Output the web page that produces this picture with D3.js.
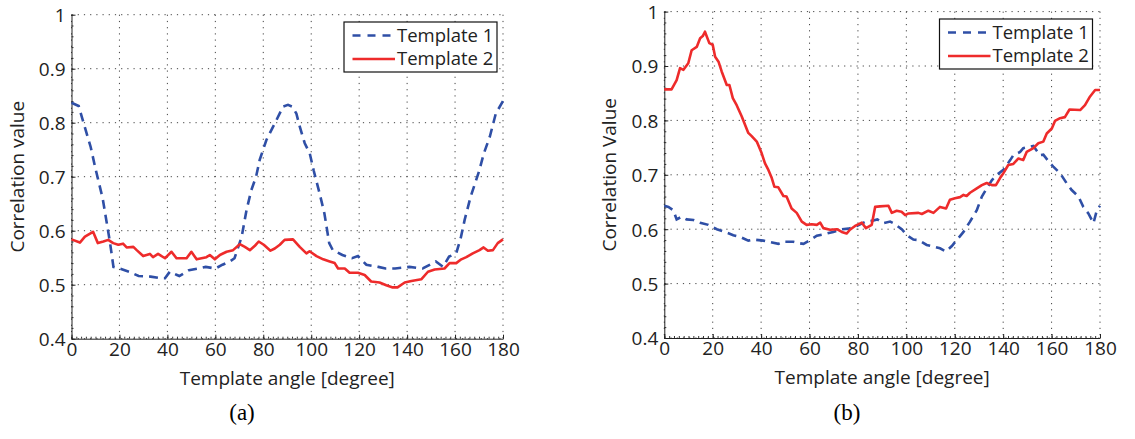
<!DOCTYPE html>
<html>
<head>
<meta charset="utf-8">
<script src="https://cdn.jsdelivr.net/npm/d3@7"></script>
<style>
  body { margin: 0; background: #fff; }
  svg { display: block; }
  .tick text { font-family: "Open Sans", sans-serif; font-size: 19px; fill: #222; }
  .lab { font-family: "Open Sans", sans-serif; font-size: 19px; fill: #222; }
  .leg { font-family: "Open Sans", sans-serif; font-size: 18.5px; fill: #222; }
  .cap { font-family: "Liberation Serif", "Times New Roman", serif; font-size: 23px; fill: #000; }
</style>
</head>
<body>
<div class="graph"></div>
<script>
// tick labels
var xTicks = [0, 20, 40, 60, 80, 100, 120, 140, 160, 180];
var yTicks = [0.4, 0.5, 0.6, 0.7, 0.8, 0.9, 1];
var seriesNames = ["Template 1", "Template 2"];

// (a) template 1
var aAng1 = [0, 3, 5, 8, 10, 13, 16, 17.5, 20, 24, 28, 33, 37, 39, 41, 44, 45, 49, 53, 56, 60, 63, 66, 68, 71, 73, 75, 77, 78.5, 81.3, 85.5, 88.3, 90.3, 92, 93.8, 95.2, 97.3, 99.4, 101, 103.5, 105.5, 107.5, 109, 113, 117, 119.5, 123, 128, 131, 135, 141, 146.5, 152, 155, 157.5, 160.5, 162.5, 164, 166.5, 170, 172, 174.5, 177, 180];
var aVal1 = [0.837, 0.831, 0.80, 0.755, 0.715, 0.66, 0.58, 0.533, 0.53, 0.524, 0.516, 0.515, 0.512, 0.512, 0.524, 0.518, 0.516, 0.527, 0.53, 0.533, 0.53, 0.537, 0.543, 0.549, 0.589, 0.638, 0.675, 0.70, 0.731, 0.768, 0.805, 0.83, 0.833, 0.83, 0.817, 0.793, 0.762, 0.743, 0.712, 0.669, 0.632, 0.577, 0.564, 0.555, 0.549, 0.553, 0.537, 0.533, 0.53, 0.53, 0.533, 0.53, 0.543, 0.533, 0.552, 0.558, 0.589, 0.62, 0.663, 0.71, 0.743, 0.774, 0.817, 0.84];

// (a) template 2
var aAng2 = [0, 3.5, 5.6, 9, 11, 13.3, 15.3, 17.4, 19.5, 21.5, 23, 25.8, 27.2, 29.9, 32.7, 34, 36.1, 39, 41.7, 43.8, 48, 50, 52.2, 56.3, 57.7, 59.8, 61.9, 64.7, 67.4, 70.2, 72.3, 74.4, 76.5, 78.1, 80.2, 83, 84.8, 86.9, 88.9, 92.4, 95.2, 98, 99.3, 102.2, 105, 107.7, 109.8, 111.2, 114, 116, 119.5, 122.3, 125, 128.5, 131.3, 134, 136, 139, 141.8, 145.9, 148.7, 151.5, 155.6, 157.7, 160.5, 162.6, 164.7, 167.4, 170.2, 171.9, 173.7, 175.8, 177.8, 180];
var aVal2 = [0.584, 0.578, 0.589, 0.598, 0.577, 0.58, 0.583, 0.577, 0.574, 0.576, 0.569, 0.57, 0.564, 0.553, 0.557, 0.551, 0.557, 0.549, 0.561, 0.549, 0.549, 0.561, 0.547, 0.551, 0.555, 0.547, 0.555, 0.561, 0.564, 0.575, 0.57, 0.564, 0.572, 0.58, 0.574, 0.563, 0.567, 0.574, 0.583, 0.584, 0.57, 0.558, 0.562, 0.553, 0.547, 0.543, 0.54, 0.53, 0.53, 0.522, 0.522, 0.518, 0.506, 0.504, 0.499, 0.495, 0.495, 0.504, 0.507, 0.51, 0.524, 0.528, 0.53, 0.54, 0.54, 0.547, 0.551, 0.558, 0.564, 0.569, 0.563, 0.564, 0.577, 0.584];

// (b) template 1
var bAng1 = [0, 1.7, 3.7, 5.1, 7.2, 9.2, 12, 14.8, 18.2, 21.7, 25.1, 28.5, 31.3, 34.7, 36.8, 40.9, 43, 47.1, 49.2, 53.3, 56.1, 57.5, 60.2, 63, 67.1, 69.8, 73.3, 76.1, 79.5, 83.3, 86.4, 88, 90.5, 93.3, 94.7, 98.1, 100.2, 102.9, 105, 108.4, 110.5, 113.9, 116.4, 118.8, 120.8, 123.6, 126.3, 129.1, 131.2, 133.2, 135.3, 137.4, 140.1, 142.9, 144.2, 147, 148.3, 152.5, 155.2, 156.6, 159.4, 160.7, 163.5, 166.3, 168.3, 171.1, 173.1, 175.2, 177.3, 178.7, 180];
var bVal1 = [0.643, 0.641, 0.635, 0.618, 0.623, 0.618, 0.617, 0.612, 0.608, 0.6, 0.595, 0.589, 0.586, 0.579, 0.581, 0.579, 0.577, 0.573, 0.577, 0.577, 0.574, 0.573, 0.58, 0.588, 0.592, 0.595, 0.6, 0.601, 0.606, 0.614, 0.616, 0.618, 0.611, 0.614, 0.611, 0.6, 0.589, 0.581, 0.58, 0.571, 0.569, 0.565, 0.559, 0.569, 0.58, 0.595, 0.614, 0.635, 0.66, 0.675, 0.69, 0.7, 0.709, 0.727, 0.736, 0.742, 0.749, 0.753, 0.736, 0.737, 0.721, 0.715, 0.703, 0.684, 0.672, 0.66, 0.641, 0.629, 0.611, 0.635, 0.643];

// (b) template 2
var bAng2 = [0, 3, 5.1, 6.5, 7.9, 9.9, 11.3, 13.4, 14.8, 15.9, 16.8, 18.6, 20, 21, 22.4, 23.7, 25.8, 26.9, 28.3, 29.9, 32, 34.7, 36.1, 38.2, 40.2, 41.6, 43, 44.4, 45.5, 47.1, 49.2, 50.5, 52.6, 54.7, 56.8, 58.8, 60.9, 63, 64.4, 65.7, 68.5, 71.3, 73.3, 75.3, 76.7, 78.8, 81.6, 83.3, 85.7, 87.1, 89.1, 92.6, 94, 96, 98, 99.5, 100.9, 105, 106.4, 109.1, 111.2, 113.9, 116.4, 118, 120.1, 122.2, 123.6, 124.9, 126.3, 129.1, 131.2, 133.2, 135.3, 137, 138.7, 140.1, 142.1, 144.2, 146.3, 148.3, 149.7, 152.5, 154.5, 156.6, 158, 160.1, 161.4, 163.5, 165.5, 167.4, 171.8, 173.8, 175.9, 178, 180];
var bVal2 = [0.857, 0.857, 0.874, 0.896, 0.893, 0.905, 0.929, 0.935, 0.951, 0.955, 0.963, 0.942, 0.939, 0.917, 0.908, 0.89, 0.865, 0.865, 0.841, 0.828, 0.807, 0.777, 0.771, 0.761, 0.74, 0.721, 0.709, 0.694, 0.678, 0.677, 0.661, 0.66, 0.638, 0.63, 0.614, 0.608, 0.609, 0.608, 0.612, 0.602, 0.599, 0.6, 0.595, 0.592, 0.599, 0.606, 0.612, 0.602, 0.608, 0.641, 0.642, 0.643, 0.63, 0.634, 0.632, 0.626, 0.629, 0.63, 0.628, 0.634, 0.63, 0.641, 0.638, 0.654, 0.657, 0.659, 0.663, 0.661, 0.667, 0.675, 0.681, 0.685, 0.681, 0.681, 0.694, 0.703, 0.718, 0.72, 0.73, 0.727, 0.742, 0.749, 0.758, 0.761, 0.776, 0.785, 0.799, 0.804, 0.806, 0.82, 0.819, 0.828, 0.844, 0.856, 0.856];

var blue = "#2f4fa6", red = "#ee2b2b";

var svg = d3.select(".graph").append("svg")
  .attr("width", 1135)
  .attr("height", 439);

function panel(p) {
  var x = d3.scaleLinear().domain([0, 180]).range([p.left, p.right]);
  var y = d3.scaleLinear().domain([0.4, 1]).range([p.bottom, p.top]);
  var g = svg.append("g");

  // dotted grid
  g.append("g").selectAll("line").data(xTicks).enter().append("line")
    .attr("x1", function(d) { return x(d); }).attr("x2", function(d) { return x(d); })
    .attr("y1", p.top).attr("y2", p.bottom)
    .attr("stroke", "#444").attr("stroke-width", 1).attr("stroke-dasharray", "1.2,5");
  g.append("g").selectAll("line").data(yTicks).enter().append("line")
    .attr("x1", p.left).attr("x2", p.right)
    .attr("y1", function(d) { return y(d); }).attr("y2", function(d) { return y(d); })
    .attr("stroke", "#444").attr("stroke-width", 1).attr("stroke-dasharray", "1.2,5");

  // minor ticks
  g.append("g").attr("transform", "translate(0," + p.bottom + ")")
    .call(d3.axisBottom(x).tickValues(d3.range(0, 181, 2)).tickSize(-2).tickFormat(""))
    .call(function(s) { s.select(".domain").remove(); s.selectAll("line").attr("stroke", "#333"); });
  g.append("g").attr("transform", "translate(" + p.left + ",0)")
    .call(d3.axisLeft(y).tickValues(d3.range(0.4, 1.001, 0.02)).tickSize(-2).tickFormat(""))
    .call(function(s) { s.select(".domain").remove(); s.selectAll("line").attr("stroke", "#333"); });

  // major axes
  g.append("g").attr("transform", "translate(0," + p.bottom + ")")
    .call(d3.axisBottom(x).tickValues(xTicks).tickSize(-4).tickPadding(2).tickSizeOuter(0).tickFormat(d3.format("d")))
    .call(function(s) {
      s.select(".domain").attr("stroke", "#222");
      s.selectAll("line").attr("stroke", "#222");
      s.selectAll("text").attr("dy", "0.78em");
    });
  g.append("g").attr("transform", "translate(" + p.left + ",0)")
    .call(d3.axisLeft(y).tickValues(yTicks).tickSize(-4).tickPadding(6).tickSizeOuter(0).tickFormat(function(d) { return d === 1 ? "1" : d3.format(".1f")(d); }))
    .call(function(s) {
      s.select(".domain").attr("stroke", "#222");
      s.selectAll("line").attr("stroke", "#222");
      s.selectAll("text").attr("dy", "0.36em");
    });

  var line = d3.line()
    .x(function(d) { return x(d[0]); })
    .y(function(d) { return y(d[1]); });

  g.append("path").datum(d3.zip(p.ang1, p.val1))
    .attr("d", line).attr("fill", "none").attr("stroke", blue)
    .attr("stroke-width", 2.6).attr("stroke-dasharray", "9,6");
  g.append("path").datum(d3.zip(p.ang2, p.val2))
    .attr("d", line).attr("fill", "none").attr("stroke", red)
    .attr("stroke-width", 2.6).attr("stroke-linejoin", "round");

  // labels
  g.append("text").attr("class", "lab").attr("text-anchor", "middle")
    .attr("x", (p.left + p.right) / 2).attr("y", p.bottom + 46)
    .text("Template angle [degree]");
  g.append("text").attr("class", "lab").attr("text-anchor", "middle")
    .attr("transform", "translate(" + (p.left - 48) + "," + ((p.top + p.bottom) / 2) + ") rotate(-90)")
    .text(p.ylabel);
  g.append("text").attr("class", "cap").attr("text-anchor", "middle")
    .attr("x", p.capX).attr("y", 420).text(p.caption);

  // legend
  var lg = g.append("g").attr("transform", "translate(" + p.legX + "," + p.legY + ")");
  lg.append("rect").attr("width", 153).attr("height", 50)
    .attr("fill", "#fff").attr("stroke", "#111").attr("stroke-width", 1.2);
  seriesNames.forEach(function(name, i) {
    var ly = 13.5 + i * 23.5;
    lg.append("line").attr("x1", 8.5).attr("x2", 51).attr("y1", ly).attr("y2", ly)
      .attr("stroke", i === 0 ? blue : red).attr("stroke-width", 2.6)
      .attr("stroke-dasharray", i === 0 ? "8,7" : null);
    lg.append("text").attr("class", "leg").attr("x", 53).attr("y", ly).attr("dy", "0.35em").text(name);
  });
}

panel({ left: 71.5, right: 503, top: 14.7, bottom: 338.7, ylabel: "Correlation value",
  caption: "(a)", capX: 242, legX: 344, legY: 22, ang1: aAng1, val1: aVal1, ang2: aAng2, val2: aVal2 });
panel({ left: 664.3, right: 1100, top: 11.6, bottom: 338, ylabel: "Correlation Value",
  caption: "(b)", capX: 847, legX: 939.5, legY: 19, ang1: bAng1, val1: bVal1, ang2: bAng2, val2: bVal2 });
</script>
</body>
</html>
